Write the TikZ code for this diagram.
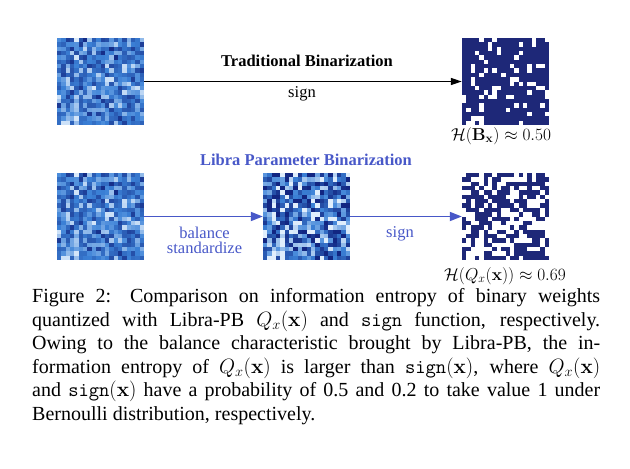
\documentclass[tikz,border=0pt]{standalone}
\usepackage[no-math]{fontspec}
\setmainfont{Liberation Serif}
\usetikzlibrary{arrows.meta}
\definecolor{navy}{RGB}{30,40,120}
\definecolor{lbblue}{RGB}{72,88,200}
\definecolor{plight}{RGB}{224,238,252}
\definecolor{pmid}{RGB}{60,130,215}
\definecolor{pdark}{RGB}{18,38,130}
\newcommand\pixshade[1]{%
  \ifnum#1<50 \pgfmathtruncatemacro\qq{2*#1}\colorlet{cc}{pmid!\qq!plight}%
  \else\pgfmathtruncatemacro\qq{2*#1-100}\colorlet{cc}{pdark!\qq!pmid}\fi}
\newcommand\pixgrid[3]{%
  \pgfmathsetseed{4711}%
  \foreach \i in {0,...,19}{%
    \foreach \j in {0,...,19}{%
      \pgfmathsetmacro\pv{100*(rnd+rnd)/2}%
      \ifcase#3\relax
        \pgfmathtruncatemacro\pp{\pv}\pixshade{\pp}%
      \or
        \pgfmathtruncatemacro\pp{max(0,min(100,50+(\pv-50)*1.9))}\pixshade{\pp}%
      \or
        \ifdim\pv pt<32pt \colorlet{cc}{white}\else\colorlet{cc}{navy}\fi
      \or
        \ifdim\pv pt<50pt \colorlet{cc}{white}\else\colorlet{cc}{navy}\fi
      \fi
      \fill[cc] ({#1+\i*4.35},{#2+\j*4.35}) rectangle ++(4.4,4.4);
    }}%
}
\newcommand\capline[1]{\makebox[568pt][s]{#1}}
\begin{document}
\begin{tikzpicture}[x=1pt,y=-1pt,
  imgbox/.style={minimum size=87pt, inner sep=0},
  lbl/.style={font=\fontsize{16.5}{15}\selectfont, inner sep=0, anchor=base},
  blbl/.style={lbl, font=\fontsize{16.5}{15}\selectfont\bfseries},
  mlbl/.style={lbl, font=\fontsize{18}{20}\selectfont},
  blackarrow/.style={line width=1.3pt, black, -{Triangle[length=11pt,width=7pt]}},
  bluearrow/.style={line width=1.8pt, lbblue, -{Triangle[length=12pt,width=9pt]}}]
\useasboundingbox (0,0) rectangle (630,469);
% image boxes
\node[imgbox] (A) at (100.5,81.5) {};
\node[imgbox] (B) at (505.5,81.5) {};
\node[imgbox] (C) at (100.5,216.5) {};
\node[imgbox] (D) at (306.5,216.5) {};
\node[imgbox] (E) at (505.5,216.5) {};
\pixgrid{57}{38}{0}
\pixgrid{462}{38}{2}
\pixgrid{57}{173}{0}
\pixgrid{263}{173}{1}
\pixgrid{462}{173}{3}
% connectors
\draw[blackarrow] (A.east) -- (B.west);
\draw[bluearrow] (C.east) -- (D.west);
\draw[bluearrow] (D.east) -- (E.west);
% labels
\node[blbl] (trad) at (307,66) {Traditional Binarization};
\node[lbl] (sign1) at (302,97) {sign};
\node[mlbl] (hb) at (501,140) {$\mathcal{H}(\mathbf{B}_{\mathbf{x}})\approx 0.50$};
\node[blbl, text=lbblue] (libra) at (306,165) {Libra Parameter Binarization};
\node[lbl, text=lbblue] (bal) at (204.5,238) {\begin{tabular}[t]{@{}c@{}}balance\\standardize\end{tabular}};
\node[lbl, text=lbblue] (sign2) at (400,237) {sign};
\node[mlbl] (hq) at (505,280) {$\mathcal{H}\big(Q_x(\mathbf{x})\big)\approx 0.69$};
% caption
\node[anchor=base west, inner sep=0] (cap) at (32,302.7) {\parbox[t]{568pt}{\fontsize{20}{23.5}\selectfont
\capline{Figure 2: Comparison on information entropy of binary weights}\\
\capline{quantized with Libra-PB $Q_x(\mathbf{x})$ and \texttt{sign} function, respectively.}\\
\capline{Owing to the balance characteristic brought by Libra-PB, the in-}\\
\capline{formation entropy of $Q_x(\mathbf{x})$ is larger than \texttt{sign}$(\mathbf{x})$, where $Q_x(\mathbf{x})$}\\
\capline{and \texttt{sign}$(\mathbf{x})$ have a probability of 0.5 and 0.2 to take value 1 under}\\
Bernoulli distribution, respectively.}};
\end{tikzpicture}
\end{document}
